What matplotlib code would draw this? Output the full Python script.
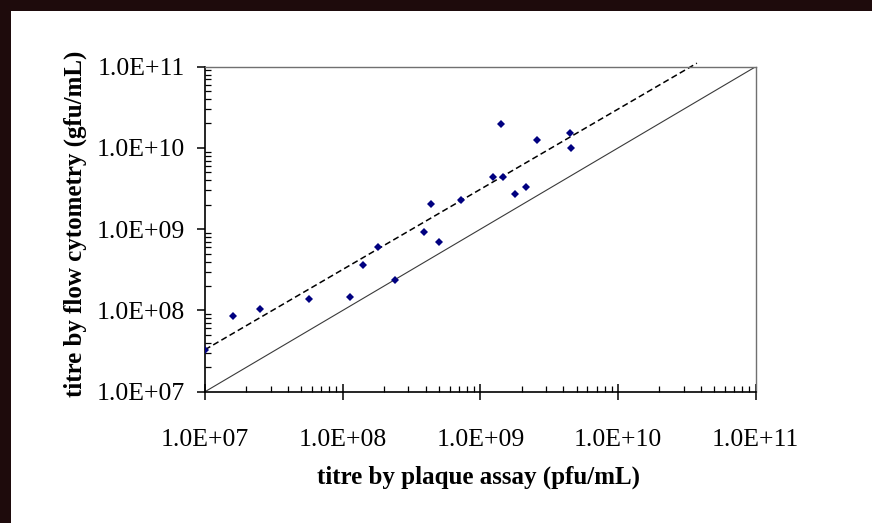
"""Flow cytometry titre vs plaque assay titre, log-log scatter."""

import matplotlib
matplotlib.use("Agg")
import matplotlib.pyplot as plt
import numpy as np
from matplotlib.patches import Rectangle
from matplotlib.ticker import FuncFormatter, LogLocator, NullFormatter

# titres
plaque_pfu = [1.0e7, 1.6e7, 2.5e7, 5.7e7, 1.13e8, 1.4e8, 1.8e8, 2.4e8, 3.9e8, 4.4e8,
              5.0e8, 7.2e8, 1.41e9, 1.24e9, 1.47e9, 1.8e9, 2.15e9, 2.56e9, 4.5e9, 4.57e9]
flow_gfu = [3.3e7, 8.5e7, 1.04e8, 1.4e8, 1.47e8, 3.65e8, 6.0e8, 2.4e8, 9.25e8, 2.02e9,
            7.0e8, 2.31e9, 1.97e10, 4.43e9, 4.43e9, 2.69e9, 3.31e9, 1.26e10, 1.54e10, 9.9e9]

# power-law trendline y = coef * x**exp
trend_coef = 4.055
trend_exp = 0.987
trend_x = [1.0e7, 3.74e10]

# identity line
ident_x = [1.0e7, 1.0e11]

axis_ticks = [1e7, 1e8, 1e9, 1e10, 1e11]

plt.rcParams["font.family"] = ["Liberation Serif", "DejaVu Serif"]

fig = plt.figure(figsize=(8.72, 5.23), dpi=100)
fig.patch.set_facecolor("#1e0b0c")
fig.patches.append(Rectangle((11 / 872, 0), 1 - 11 / 872, 1 - 11 / 523,
                             transform=fig.transFigure, facecolor="white",
                             edgecolor="none", zorder=-5))

ax = fig.add_axes([205 / 872, 131.3 / 523, 550.7 / 872, 325 / 523])
ax.set_zorder(2)
ax.set_facecolor("white")
ax.set_xscale("log")
ax.set_yscale("log")
ax.set_xlim(1e7, 1e11)
ax.set_ylim(1e7, 1e11)

tx = np.array(trend_x)
ax.plot(tx, trend_coef * tx ** trend_exp, color="black", lw=1.1,
        dashes=(4, 2.2), clip_on=False, zorder=2)
ax.plot(ident_x, ident_x, color="#3a3a3a", lw=0.8, zorder=2)
ax.plot(plaque_pfu, flow_gfu, linestyle="none", marker="D", markersize=4.3,
        color="#000080", markeredgewidth=0, zorder=3)

fmt = FuncFormatter(lambda v, _: f"{v:.1E}")
for axis in (ax.xaxis, ax.yaxis):
    axis.set_major_locator(LogLocator(base=10, numticks=10))
    axis.set_minor_locator(LogLocator(base=10, subs=np.arange(2, 10), numticks=40))
    axis.set_major_formatter(fmt)
    axis.set_minor_formatter(NullFormatter())
ax.set_xticks(axis_ticks)
ax.set_yticks(axis_ticks)

ax.tick_params(axis="x", which="major", direction="inout", length=11, width=1.1,
               pad=21, labelsize=18.5)
ax.tick_params(axis="x", which="minor", direction="in", length=4.6, width=0.9)
ax.tick_params(axis="y", which="major", direction="out", length=5.8, width=1.1,
               pad=9, labelsize=18.5)
ax.tick_params(axis="y", which="minor", direction="in", length=4.4, width=0.9)

for side in ("left", "bottom"):
    ax.spines[side].set_linewidth(1.2)
    ax.spines[side].set_color("black")
for side in ("top", "right"):
    ax.spines[side].set_linewidth(1.0)
    ax.spines[side].set_color("#707070")

fig.text(478 / 872, 1 - 477 / 523, "titre by plaque assay (pfu/mL)",
         ha="center", va="center", fontsize=18, fontweight="bold")
fig.text(75 / 872, 1 - 224 / 523, "titre by flow cytometry (gfu/mL)",
         ha="center", va="center", rotation=90, fontsize=18, fontweight="bold")

fig.savefig("out.png", dpi=100, facecolor=fig.get_facecolor())
